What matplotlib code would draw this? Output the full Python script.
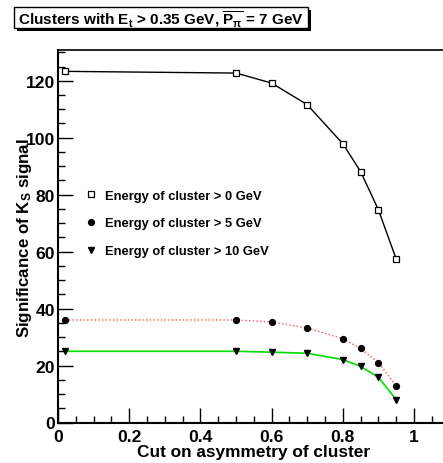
import matplotlib
matplotlib.use("Agg")
import matplotlib.pyplot as plt
from matplotlib.lines import Line2D
from matplotlib.patches import Rectangle
from matplotlib.ticker import MultipleLocator, FuncFormatter

plt.rcParams['font.family'] = ['Liberation Sans', 'DejaVu Sans']
plt.rcParams['font.weight'] = 'bold'
plt.rcParams['mathtext.fontset'] = 'custom'
plt.rcParams['mathtext.rm'] = 'Liberation Sans:bold'
plt.rcParams['mathtext.it'] = 'Liberation Sans:bold'
plt.rcParams['mathtext.bf'] = 'Liberation Sans:bold'

# cut on asymmetry
cuts = [0.02, 0.5, 0.6, 0.7, 0.8, 0.85, 0.9, 0.95]
# significance for each cluster energy threshold
sig_e0 = [123.3, 122.7, 119.2, 111.6, 97.9, 88.1, 74.7, 57.4]
sig_e5 = [36.0, 36.0, 35.3, 33.2, 29.4, 26.0, 21.0, 12.9]
sig_e10 = [25.0, 25.0, 24.7, 24.3, 22.1, 19.7, 15.9, 8.0]
labels = ["Energy of cluster > 0 GeV",
          "Energy of cluster > 5 GeV",
          "Energy of cluster > 10 GeV"]

W, H = 443, 464
fig = plt.figure(figsize=(W / 100, H / 100), dpi=100)
ax = fig.add_axes([58 / W, 40.5 / H, 391.6 / W, 372.5 / H])

ax.plot(cuts, sig_e0, color='black', lw=1, marker='s', ms=4.5,
        mfc='white', mec='black', mew=0.9)
ax.plot(cuts, sig_e5, color='#ff5050', lw=1, ls=':', zorder=2)
ax.plot(cuts, sig_e5, ls='none', marker='o', ms=4.2, color='black', zorder=3)
ax.plot(cuts, sig_e10, color='#00dd00', lw=1.2, zorder=2)
ax.plot(cuts, sig_e10, ls='none', marker='v', ms=4.3, color='black', zorder=3)

ax.set_xlim(0, 1.1)
ax.set_ylim(0, 130.8)
ax.xaxis.set_major_locator(MultipleLocator(0.2))
ax.xaxis.set_minor_locator(MultipleLocator(0.05))
ax.yaxis.set_major_locator(MultipleLocator(20))
ax.yaxis.set_minor_locator(MultipleLocator(5))
ax.tick_params(which='both', direction='in', labelsize=12.6, width=1)
ax.tick_params(which='major', length=11)
ax.tick_params(which='minor', length=5)
ax.tick_params(axis='x', which='major', pad=5)
ax.tick_params(axis='y', which='major', pad=2)
ax.xaxis.set_major_formatter(FuncFormatter(
    lambda v, p: '0' if abs(v) < 1e-9 else ('1' if abs(v - 1) < 1e-9 else f'{v:.1f}')))
for lab in ax.get_xticklabels() + ax.get_yticklabels():
    lab.set_fontweight('bold')
for s in ['left', 'bottom']:
    ax.spines[s].set_linewidth(1.5)
ax.spines['top'].set_linewidth(1.2)

ax.set_xlabel('Cut on asymmetry of cluster', fontsize=12.4, fontweight='bold')
ax.xaxis.set_label_coords((254 - 58) / 391.6, -(453 - 423.5) / 372.5)
ax.xaxis.label.set_va('center')
ax.set_ylabel(r'Significance of K$_{\mathrm{S}}$ signal', fontsize=12.2,
              fontweight='bold')
ax.yaxis.set_label_coords(-(58 - 25) / 391.6, (423.5 - 238) / 372.5)
ax.yaxis.label.set_va('center')

handles = [
    Line2D([], [], ls='none', marker='s', ms=4.5, mfc='white', mec='black', mew=0.9),
    Line2D([], [], ls='none', marker='o', ms=4.2, color='black'),
    Line2D([], [], ls='none', marker='v', ms=4.3, color='black'),
]
fig.legend(handles, labels, loc='upper left', bbox_to_anchor=(73 / W, 1 - 179 / H),
           frameon=False, prop={'size': 9.3, 'weight': 'bold'},
           handlelength=1.0, handletextpad=0.6, labelspacing=1.22)

# title box with shadow
fig.patches.append(Rectangle((17 / W, 1 - 32 / H), 294 / W, 21 / H,
                             transform=fig.transFigure, facecolor='black',
                             edgecolor='none', zorder=1))
fig.patches.append(Rectangle((14 / W, 1 - 29 / H), 294 / W, 21 / H,
                             transform=fig.transFigure, facecolor='white',
                             edgecolor='black', lw=1, zorder=2))
fig.text(18 / W, 1 - 19 / H,
         r'Clusters with E$_{\mathrm{t}}$ > 0.35 GeV, $\overline{\mathrm{P}_{\pi}}$ = 7 GeV',
         fontsize=11.0, fontweight='bold', va='center', ha='left', zorder=3)

fig.savefig('out.png', dpi=100)
